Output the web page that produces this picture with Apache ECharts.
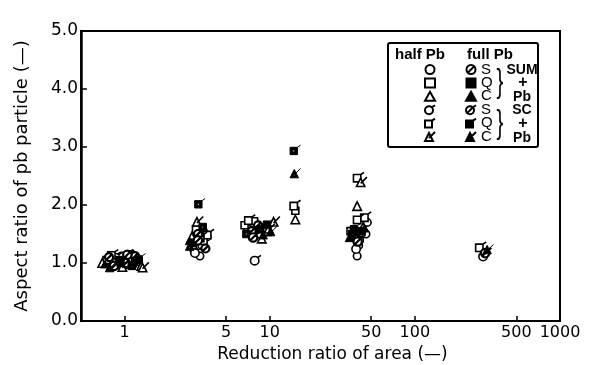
<!DOCTYPE html>
<html>
<head>
<meta charset="utf-8">
<script src="https://cdn.jsdelivr.net/npm/echarts@6/dist/echarts.min.js"></script>
<style>
  html, body { margin: 0; padding: 0; background: #fff; }
  #chart { width: 595px; height: 365px; }
</style>
</head>
<body>
<div id="chart"></div>
<script>
// x ticks / labels (reduction ratio, log scale)
const xLabels = [1, 5, 10, 50, 100, 500, 1000]
const xTicks = [1, 5, 10, 50, 100, 500]
const yTicks = [1, 2, 3, 4]

// [reduction ratio, aspect ratio]
// half Pb, SUM + Pb
const halfSumS = [[0.8, 1.02], [0.95, 1.12], [1.05, 0.97], [1.2, 1.08], [3.4, 1.3], [3.0, 1.22], [3.3, 1.12], [3.7, 1.45], [7.0, 1.6], [8.5, 1.5], [46, 1.5], [41, 1.3], [40, 1.12], [47, 1.7]]
const halfSumQ = [[0.75, 1.05], [0.9, 0.98], [1.1, 1.14], [1.25, 1.02], [3.1, 1.58], [3.5, 1.38], [6.7, 1.65], [7.8, 1.72], [15, 1.9], [36, 1.55], [39, 1.48]]
const halfSumC = [[0.7, 1.0], [1.0, 1.08], [1.3, 0.95], [2.9, 1.45], [3.6, 1.55], [8.8, 1.42], [9.5, 1.55], [15, 1.75], [40, 1.98], [44, 1.62]]
// half Pb, SC + Pb
const halfScS = [[0.88, 1.1], [1.15, 0.98], [3.1, 1.18], [8.0, 1.05], [40, 1.25], [42, 1.4], [300, 1.12]]
const halfScQ = [[0.83, 1.15], [1.08, 1.04], [3.8, 1.5], [3.4, 1.45], [7.3, 1.75], [9.2, 1.62], [15, 2.0], [41, 2.48], [46, 1.8], [41, 1.76], [285, 1.28]]
const halfScC = [[1.35, 0.93], [0.98, 0.94], [3.2, 1.72], [10.8, 1.72], [10.0, 1.6], [43, 2.4]]
// full Pb, SUM + Pb
const fullSumS = [[0.78, 1.1], [1.02, 1.0], [1.18, 1.12], [3.2, 1.5], [3.6, 1.25], [7.5, 1.55], [8.3, 1.65], [38, 1.45]]
const fullSumQ = [[0.92, 1.05], [1.12, 0.95], [2.95, 1.35], [3.45, 1.62], [6.9, 1.5], [8.6, 1.58], [37, 1.5], [43, 1.55]]
const fullSumC = [[0.73, 0.98], [1.22, 1.05], [2.8, 1.38], [9.0, 1.48], [45, 1.6]]
// full Pb, SC + Pb
const fullScS = [[0.86, 0.96], [1.06, 1.15], [3.25, 1.4], [7.8, 1.45], [41, 1.38], [310, 1.18]]
const fullScQ = [[0.96, 1.02], [1.28, 1.08], [3.3, 2.03], [9.8, 1.68], [15, 2.95], [39, 1.6]]
const fullScC = [[1.17, 1.04], [0.8, 0.93], [2.85, 1.3], [10.3, 1.55], [15, 2.55], [36, 1.45], [320, 1.24]]

const FONT = 'DejaVu Sans'
const LFONT = 'Liberation Sans'

const sym = {
  scS: 'path://M0,6a4,4 0 1,0 8,0a4,4 0 1,0 -8,0z M6.8,3.2L10,1',
  scQ: 'path://M0,3L7,3L7,10L0,10Z M7,3L10,1',
  scC: 'path://M4,2L8,10L0,10Z M4,7L10,1',
  fS: 'path://M0,4a4,4 0 1,0 8,0a4,4 0 1,0 -8,0z M1.6,6.4L6.4,1.6',
  fQ: 'path://M0,0L8,0L8,8L0,8Z M3,3L3,5L5,5L5,3Z',
  fC: 'path://M4.5,0L9,8L0,8Z M4.5,4.5L3.5,6.5L5.5,6.5Z',
  fscS: 'path://M0,6a4,4 0 1,0 8,0a4,4 0 1,0 -8,0z M1.6,8.4L6.4,3.6 M6.8,3.2L10,1',
  fscQ: 'path://M0,3L7,3L7,10L0,10Z M2.5,5.5L2.5,7.5L4.5,7.5L4.5,5.5Z M7,3L10,1',
  fscC: 'path://M4,2L8,10L0,10Z M4,6L3,8L5,8Z M4,7L10,1'
}

let mk = (name, data, symbol, size, filled, bw) => ({
  type: 'scatter',
  name: name,
  data: data,
  symbol: symbol,
  symbolSize: size,
  symbolKeepAspect: true,
  itemStyle: {
    color: filled ? '#000' : '#fff',
    borderColor: '#000',
    borderWidth: bw,
    opacity: 1
  },
  emphasis: { disabled: true }
})

const series = [
  mk('half SUM S', halfSumS, 'circle', 7.5, false, 1.6),
  mk('half SUM Q', halfSumQ, 'rect', 7, false, 1.6),
  mk('half SUM C', halfSumC, 'triangle', 8.5, false, 1.6),
  mk('half SC S', halfScS, sym.scS, 10.5, false, 1.6),
  mk('half SC Q', halfScQ, sym.scQ, 10.5, false, 1.6),
  mk('half SC C', halfScC, sym.scC, 10.5, false, 1.6),
  mk('full SUM S', fullSumS, sym.fS, 8, false, 2.2),
  mk('full SUM Q', fullSumQ, sym.fQ, 7.5, true, 1),
  mk('full SUM C', fullSumC, sym.fC, 8.5, true, 1),
  mk('full SC S', fullScS, sym.fscS, 10.5, false, 2.2),
  mk('full SC Q', fullScQ, sym.fscQ, 10.5, true, 1),
  mk('full SC C', fullScC, sym.fscC, 10.5, true, 1)
]

const chart = echarts.init(document.getElementById('chart'))

const legendCommon = {
  orient: 'vertical',
  top: 62,
  padding: 0,
  itemWidth: 10,
  itemHeight: 9,
  itemGap: -1.6,
  selectedMode: false,
  textStyle: { fontFamily: LFONT, fontSize: 15, color: '#000' }
}

let txt = (x, y, text, size) => ({
  type: 'text', x: x, y: y, z: 100,
  style: { text: text, fontFamily: LFONT, fontWeight: 'bold', fontSize: size, fill: '#000', align: 'center', verticalAlign: 'middle' }
})

chart.setOption({
  backgroundColor: '#fff',
  animation: false,
  grid: {
    left: 81, right: 35, top: 31, bottom: 44,
    outerBoundsMode: 'none',
    show: true, borderColor: '#000', borderWidth: 2
  },
  xAxis: {
    type: 'log',
    min: 0.5,
    max: 1000,
    name: 'Reduction ratio of area (—)',
    nameLocation: 'middle',
    nameGap: 25,
    nameTextStyle: { fontFamily: FONT, fontSize: 17, color: '#000', padding: [0, 0, 0, 24] },
    axisLine: { lineStyle: { color: '#000', width: 2 } },
    axisTick: { inside: true, length: 5, lineStyle: { color: '#000', width: 1.5 }, customValues: xTicks },
    axisLabel: {
      customValues: xLabels,
      formatter: v => String(v),
      fontFamily: FONT, fontSize: 16, color: '#000', margin: 4
    },
    splitLine: { show: false },
    minorTick: { show: false }
  },
  yAxis: {
    type: 'value',
    min: 0,
    max: 5,
    interval: 1,
    name: 'Aspect ratio of pb particle (—)',
    nameLocation: 'middle',
    nameGap: 50,
    nameTextStyle: { fontFamily: FONT, fontSize: 18, color: '#000' },
    axisLine: { show: true, lineStyle: { color: '#000', width: 2.5 } },
    axisTick: { inside: true, length: 6, lineStyle: { color: '#000', width: 1.5 }, customValues: yTicks },
    axisLabel: {
      formatter: v => v.toFixed(1),
      fontFamily: FONT, fontSize: 17, color: '#000', margin: 3
    },
    splitLine: { show: false }
  },
  legend: [
    Object.assign({}, legendCommon, {
      left: 424,
      data: series.slice(0, 6).map(s => s.name),
      formatter: () => ' '
    }),
    Object.assign({}, legendCommon, {
      left: 465,
      data: series.slice(6).map(s => s.name),
      formatter: n => n.slice(-1)
    })
  ],
  graphic: [
    { type: 'rect', shape: { x: 388, y: 43, width: 150, height: 104, r: 2 }, style: { fill: 'none', stroke: '#000', lineWidth: 2 }, z: 100 },
    txt(420, 55, 'half Pb', 15),
    txt(490, 55, 'full Pb', 15),
    { type: 'text', x: 500, y: 83, style: { text: '}', fontFamily: LFONT, fontSize: 34, fill: '#000', align: 'center', verticalAlign: 'middle' }, scaleX: 0.6, z: 100 },
    { type: 'text', x: 500, y: 124, style: { text: '}', fontFamily: LFONT, fontSize: 34, fill: '#000', align: 'center', verticalAlign: 'middle' }, scaleX: 0.6, z: 100 },
    txt(522, 70, 'SUM', 14),
    txt(523, 83, '+', 16),
    txt(522, 97, 'Pb', 14),
    txt(522, 110, 'SC', 14),
    txt(523, 124, '+', 16),
    txt(522, 138, 'Pb', 14)
  ],
  series: series
})
</script>
</body>
</html>
